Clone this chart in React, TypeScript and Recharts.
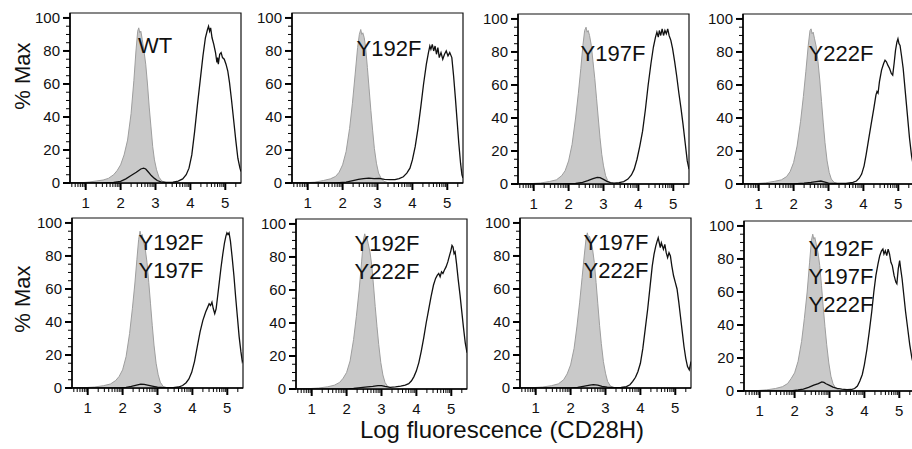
import React from 'react';
import { ComposedChart, Area, Line, XAxis, YAxis, ReferenceArea } from 'recharts';

/* ─── AXES ─────────────────────────────────────── */
const X_DOMAIN = [0.55, 5.45];
const Y_DOMAIN = [0, 103];
const X_MAJOR = [1, 2, 3, 4, 5];
const X_DECADES = [0, 1, 2, 3, 4, 5];
const LOG_MINOR = [0.301, 0.477, 0.602, 0.699, 0.778, 0.845, 0.903, 0.954];
const Y_MAJOR = [0, 20, 40, 60, 80, 100];
const Y_MINOR = [5, 10, 15, 25, 30, 35, 45, 50, 55, 65, 70, 75, 85, 90, 95];

const X_TICKS = [
  ...X_MAJOR,
  ...X_DECADES.flatMap(d => LOG_MINOR.map(m => d + m)).filter(v => v > X_DOMAIN[0] && v < X_DOMAIN[1]),
].sort((a, b) => a - b);
const Y_TICKS = [...Y_MAJOR, ...Y_MINOR].sort((a, b) => a - b);

/* ─── DATA: [log fluorescence, % max] ─────────────────────────────────────── */
const wtIso = [[0.55,0],[0.9,0.2],[1.1,0.6],[1.3,1.2],[1.5,1.8],[1.65,2.8],[1.8,5],[1.9,7.5],[2.0,11],[2.1,17],[2.2,26],[2.3,42],[2.38,62],[2.44,80],[2.49,92],[2.52,94],[2.55,91],[2.58,92],[2.62,87],[2.67,80],[2.72,72],[2.77,60],[2.82,46],[2.87,34],[2.92,22],[2.97,14],[3.03,8],[3.1,3.5],[3.18,1.2],[3.3,0.3],[3.5,0]];
const wtStain = [[0.55,0],[1.5,0],[1.8,0.3],[2.0,1],[2.15,2.5],[2.3,4.5],[2.45,6.5],[2.58,8.5],[2.66,9],[2.72,8.5],[2.8,6.5],[2.88,4.5],[2.97,2.8],[3.05,1.5],[3.15,0.7],[3.3,0.3],[3.5,0.5],[3.65,1.2],[3.78,2.5],[3.88,5],[3.96,9],[4.04,17],[4.12,31],[4.2,47],[4.28,62],[4.36,77],[4.43,88],[4.49,93],[4.52,95],[4.55,92],[4.58,94],[4.62,88],[4.67,84],[4.72,79],[4.76,73],[4.78,76],[4.8,72],[4.84,78],[4.88,79],[4.92,76],[4.97,75],[5.02,72],[5.07,68],[5.12,61],[5.18,50],[5.24,38],[5.3,26],[5.36,15],[5.42,9],[5.45,7]];

const y192Iso = [[0.55,0],[0.9,0.1],[1.2,0.5],[1.45,1.5],[1.65,2.5],[1.8,4],[1.9,6.5],[2.0,11],[2.1,19],[2.2,33],[2.28,48],[2.36,66],[2.43,82],[2.48,90],[2.52,93],[2.55,90],[2.58,91],[2.62,88],[2.66,82],[2.71,70],[2.76,57],[2.81,44],[2.86,32],[2.91,21],[2.97,12],[3.03,6],[3.1,3],[3.18,1],[3.3,0.2],[3.5,0]];
const y192Stain = [[0.55,0],[1.8,0],[2.1,0.5],[2.3,1.5],[2.45,2.2],[2.6,2.6],[2.75,3],[2.9,2.6],[3.05,2.8],[3.2,2.2],[3.35,2],[3.5,2],[3.62,2.6],[3.74,3.8],[3.84,6],[3.93,9],[4.0,14],[4.08,22],[4.16,33],[4.24,46],[4.32,60],[4.4,72],[4.46,79],[4.5,83],[4.53,81],[4.57,84],[4.61,80],[4.65,83],[4.69,78],[4.73,82],[4.77,76],[4.82,79],[4.87,75],[4.92,78],[4.97,80],[5.02,77],[5.07,79],[5.13,76],[5.18,65],[5.23,52],[5.28,38],[5.33,24],[5.38,12],[5.42,5],[5.45,3]];

const y197Iso = [[0.55,0],[0.9,0.2],[1.2,0.6],[1.45,1.5],[1.65,2.5],[1.8,5],[1.9,8],[2.0,14],[2.1,24],[2.2,40],[2.28,55],[2.35,70],[2.41,84],[2.46,93],[2.5,95],[2.53,92],[2.56,93],[2.6,90],[2.65,84],[2.7,74],[2.75,64],[2.8,52],[2.85,40],[2.9,28],[2.95,18],[3.0,11],[3.06,5],[3.12,2],[3.2,0.5],[3.35,0]];
const y197Stain = [[0.55,0],[1.8,0],[2.2,0.3],[2.4,1],[2.55,2],[2.7,3.2],[2.82,4],[2.9,3.8],[3.0,2.8],[3.1,1.6],[3.2,0.8],[3.3,0.5],[3.45,0.8],[3.58,1.5],[3.7,3],[3.8,5.5],[3.88,9],[3.96,15],[4.04,23],[4.12,32],[4.2,45],[4.28,60],[4.36,73],[4.43,83],[4.49,89],[4.53,92],[4.57,89],[4.6,93],[4.64,90],[4.68,94],[4.72,90],[4.76,93],[4.8,91],[4.84,94],[4.88,90],[4.93,87],[4.98,82],[5.04,74],[5.1,65],[5.16,55],[5.22,46],[5.28,36],[5.34,25],[5.4,14],[5.45,9]];

const y222Iso = [[0.55,0],[0.9,0.2],[1.2,0.7],[1.45,1.6],[1.65,2.5],[1.8,4.5],[1.9,7.5],[2.0,13],[2.1,23],[2.2,38],[2.28,53],[2.35,68],[2.42,84],[2.47,93],[2.5,94],[2.53,91],[2.56,92],[2.6,88],[2.65,83],[2.7,74],[2.75,63],[2.8,50],[2.85,37],[2.9,25],[2.96,14],[3.02,7],[3.08,3],[3.16,1],[3.3,0]];
const y222Stain = [[0.55,0],[2.0,0],[2.3,0.5],[2.5,1],[2.65,1.5],[2.78,1.8],[2.9,1.2],[3.0,0.5],[3.2,0.3],[3.5,0.4],[3.7,1],[3.8,1.8],[3.88,3.5],[3.95,6],[4.02,11],[4.08,18],[4.15,27],[4.22,36],[4.3,46],[4.36,54],[4.39,56],[4.42,55],[4.46,62],[4.52,69],[4.58,73],[4.62,75],[4.66,74],[4.7,72],[4.75,70],[4.8,67],[4.84,66],[4.88,73],[4.92,81],[4.96,86],[4.99,88],[5.02,85],[5.05,84],[5.09,78],[5.14,70],[5.2,56],[5.26,42],[5.32,28],[5.38,17],[5.45,9]];

const y192y197Iso = [[0.55,0],[0.9,0.2],[1.2,0.6],[1.45,1.4],[1.65,2.4],[1.8,4.5],[1.9,7],[2.0,11],[2.1,19],[2.2,33],[2.28,48],[2.35,63],[2.41,78],[2.46,90],[2.5,95],[2.53,92],[2.56,93],[2.6,89],[2.65,84],[2.7,76],[2.75,64],[2.8,51],[2.85,38],[2.9,26],[2.96,15],[3.02,8],[3.08,3.5],[3.16,1],[3.3,0]];
const y192y197Stain = [[0.55,0],[1.9,0],[2.1,0.4],[2.25,1],[2.4,1.8],[2.52,2.4],[2.62,2.2],[2.75,1.6],[2.88,1],[3.0,0.5],[3.2,0.2],[3.45,0.2],[3.6,0.6],[3.72,1.5],[3.82,3.2],[3.9,5.5],[3.98,9.5],[4.06,16],[4.14,25],[4.22,34],[4.3,41],[4.38,46],[4.44,49],[4.48,51],[4.52,50],[4.56,52],[4.6,48],[4.64,45],[4.68,48],[4.72,55],[4.77,64],[4.82,73],[4.87,81],[4.92,88],[4.96,92],[4.99,94],[5.02,93],[5.05,94],[5.09,89],[5.14,79],[5.19,68],[5.24,55],[5.29,43],[5.34,31],[5.39,22],[5.43,16],[5.45,17]];

const y192y222Iso = [[0.55,0],[0.9,0.2],[1.2,0.6],[1.45,1.3],[1.65,2.3],[1.8,4],[1.9,6.5],[2.0,10],[2.1,17],[2.2,30],[2.28,44],[2.36,60],[2.43,77],[2.48,90],[2.52,94],[2.55,91],[2.58,92],[2.62,88],[2.67,83],[2.72,75],[2.77,63],[2.82,50],[2.87,38],[2.92,27],[2.98,16],[3.04,8.5],[3.1,4],[3.18,1.4],[3.3,0.2],[3.45,0]];
const y192y222Stain = [[0.55,0],[2.0,0],[2.2,0.3],[2.4,0.8],[2.6,1.3],[2.75,1.6],[2.9,2],[3.0,2.1],[3.1,1.6],[3.25,1],[3.4,1.3],[3.55,1.8],[3.68,2.4],[3.78,3.2],[3.86,5],[3.93,7.5],[4.0,11],[4.07,16],[4.14,23],[4.21,31],[4.28,40],[4.35,48],[4.42,56],[4.49,63],[4.55,67],[4.6,69],[4.64,70],[4.68,68],[4.72,71],[4.76,70],[4.8,72],[4.85,74],[4.9,77],[4.95,81],[4.99,84],[5.02,87],[5.05,86],[5.08,82],[5.11,83],[5.15,76],[5.2,66],[5.25,57],[5.3,47],[5.35,37],[5.4,28],[5.45,22]];

const y197y222Iso = [[0.55,0],[0.9,0.2],[1.2,0.6],[1.45,1.4],[1.65,2.5],[1.8,5],[1.9,8.5],[2.0,14],[2.1,24],[2.18,37],[2.26,52],[2.33,67],[2.39,80],[2.44,90],[2.48,94],[2.51,91],[2.54,92],[2.58,89],[2.63,84],[2.68,76],[2.73,64],[2.78,51],[2.83,38],[2.88,27],[2.94,16],[3.0,9],[3.06,4],[3.14,1.2],[3.28,0]];
const y197y222Stain = [[0.55,0],[2.0,0],[2.2,0.4],[2.4,1.2],[2.55,1.8],[2.65,2],[2.78,1.7],[2.9,1],[3.05,0.5],[3.25,0.2],[3.45,0.3],[3.6,0.8],[3.7,2],[3.78,4],[3.86,6.5],[3.93,10],[4.0,15],[4.07,24],[4.14,36],[4.21,48],[4.28,62],[4.34,74],[4.39,81],[4.44,86],[4.48,89],[4.51,91],[4.54,88],[4.57,85],[4.6,88],[4.63,86],[4.66,84],[4.7,87],[4.74,82],[4.78,79],[4.82,82],[4.86,80],[4.9,74],[4.95,68],[5.0,64],[5.05,60],[5.1,52],[5.15,43],[5.2,34],[5.25,25],[5.3,18],[5.35,13],[5.4,11],[5.45,16]];

const tripleIso = [[0.55,0],[0.9,0.2],[1.2,0.7],[1.45,1.5],[1.65,2.6],[1.8,4.5],[1.9,7.5],[2.0,11],[2.1,18],[2.2,30],[2.28,44],[2.36,60],[2.43,78],[2.48,91],[2.52,95],[2.55,92],[2.58,93],[2.62,89],[2.67,84],[2.72,76],[2.77,64],[2.82,51],[2.87,39],[2.92,28],[2.98,17],[3.04,9],[3.1,4.5],[3.18,1.5],[3.3,0.2],[3.45,0]];
const tripleStain = [[0.55,0],[1.9,0],[2.1,0.6],[2.25,1.2],[2.4,2.2],[2.55,3.5],[2.68,4.5],[2.78,5.5],[2.84,5.2],[2.9,4.4],[3.0,3.4],[3.1,2.4],[3.22,1.6],[3.35,1.1],[3.5,0.8],[3.62,0.9],[3.72,1.5],[3.8,3],[3.87,6],[3.94,10],[4.0,16],[4.07,25],[4.14,36],[4.21,48],[4.27,60],[4.33,70],[4.39,77],[4.44,82],[4.49,85],[4.53,86],[4.56,83],[4.6,85],[4.64,82],[4.68,86],[4.72,83],[4.76,78],[4.8,76],[4.85,70],[4.9,66],[4.93,65],[4.97,74],[5.01,79],[5.04,74],[5.08,68],[5.13,58],[5.18,48],[5.24,38],[5.3,28],[5.36,20],[5.42,15],[5.45,13]];

const PANEL_NAMES = [
  ['WT'], ['Y192F'], ['Y197F'], ['Y222F'],
  ['Y192F', 'Y197F'], ['Y192F', 'Y222F'], ['Y197F', 'Y222F'], ['Y192F', 'Y197F', 'Y222F'],
];
const PANEL_ISO = [wtIso, y192Iso, y197Iso, y222Iso, y192y197Iso, y192y222Iso, y197y222Iso, tripleIso];
const PANEL_STAIN = [wtStain, y192Stain, y197Stain, y222Stain, y192y197Stain, y192y222Stain, y197y222Stain, tripleStain];

/* ─── LAYOUT (plot-area origin of each panel, label anchor inside plot) ─── */
const PLOT_W = 171;
const PLOT_H = 170;
const Y_AXIS_W = 48;
const TOP_M = 10;
const X_AXIS_H = 32;
const LAYOUT = [
  { left: 70, top: 13, lx: 85, ly: 41 },
  { left: 292, top: 13, lx: 97, ly: 44 },
  { left: 518, top: 14, lx: 95, ly: 48 },
  { left: 743, top: 14, lx: 98, ly: 48 },
  { left: 72, top: 218, lx: 99, ly: 33 },
  { left: 296, top: 219, lx: 91, ly: 33 },
  { left: 520, top: 218, lx: 96, ly: 33 },
  { left: 744, top: 221, lx: 97, ly: 36 },
];

const FONT = '"Liberation Sans", Arial, Helvetica, sans-serif';

const merge = (iso: number[][], stain: number[][]) => {
  const rows = new Map<number, any>();
  iso.forEach(([x, y]) => rows.set(x, { ...(rows.get(x) || { x }), iso: y }));
  stain.forEach(([x, y]) => rows.set(x, { ...(rows.get(x) || { x }), stain: y }));
  return [...rows.values()].sort((a, b) => a.x - b.x);
};

/* ─── TICKS ─────────────────────────────────────── */
const XTick = ({ x, y, payload }: any) => {
  const v = payload.value;
  const major = X_MAJOR.includes(v);
  return (
    <g>
      <line x1={x} x2={x} y1={y} y2={y + (major ? 7 : 4)} stroke="#000" strokeWidth={major ? 2 : 1} />
      {major && <text x={x} y={y + 25} textAnchor="middle" fontSize={15} fontFamily={FONT} fill="#111">{v}</text>}
    </g>
  );
};

const YTick = ({ x, y, payload }: any) => {
  const v = payload.value;
  const major = Y_MAJOR.includes(v);
  return (
    <g>
      <line x1={x} x2={x - (major ? 7 : 4)} y1={y} y2={y} stroke="#000" strokeWidth={major ? 2 : 1} />
      {major && <text x={x - 10} y={y + 5} textAnchor="end" fontSize={15} fontFamily={FONT} fill="#111">{v}</text>}
    </g>
  );
};

/* ─── ONE HISTOGRAM PANEL ─────────────────────────────────────── */
const Panel = ({ i }: { i: number }) => {
  const pos = LAYOUT[i];
  const data = merge(PANEL_ISO[i], PANEL_STAIN[i]);
  const wrapLeft = pos.left - Y_AXIS_W;
  const wrapTop = pos.top - TOP_M;
  return (
    <div style={{ position: 'absolute', left: wrapLeft, top: wrapTop }}>
      <ComposedChart
        width={Y_AXIS_W + PLOT_W + 1}
        height={TOP_M + PLOT_H + X_AXIS_H}
        data={data}
        margin={{ top: TOP_M, right: 1, bottom: 0, left: 0 }}
      >
        <XAxis
          dataKey="x" type="number" domain={X_DOMAIN} ticks={X_TICKS} interval={0}
          tickSize={0} tickMargin={0} tickLine={false} tick={<XTick />}
          axisLine={{ stroke: '#000', strokeWidth: 1.5 }} height={X_AXIS_H} allowDataOverflow
        />
        <YAxis
          type="number" domain={Y_DOMAIN} ticks={Y_TICKS} interval={0}
          tickSize={0} tickMargin={0} tickLine={false} tick={<YTick />}
          axisLine={{ stroke: '#000', strokeWidth: 1.5 }} width={Y_AXIS_W} allowDataOverflow
        />
        <ReferenceArea
          x1={X_DOMAIN[0]} x2={X_DOMAIN[1]} y1={Y_DOMAIN[0]} y2={Y_DOMAIN[1]}
          fill="none" fillOpacity={0} stroke="#111" strokeOpacity={1} strokeWidth={1.2} ifOverflow="visible"
        />
        <Area
          type="linear" dataKey="iso" connectNulls fill="#c9c9c9" fillOpacity={1}
          stroke="#9e9e9e" strokeWidth={1} dot={false} activeDot={false} isAnimationActive={false}
        />
        <Line
          type="linear" dataKey="stain" connectNulls stroke="#111" strokeWidth={1.3}
          dot={false} activeDot={false} isAnimationActive={false}
        />
      </ComposedChart>
      {PANEL_NAMES[i].map((name, k) => (
        <div
          key={k}
          style={{
            position: 'absolute', left: Y_AXIS_W + pos.lx - 60, top: TOP_M + pos.ly + k * 28 - 21.6,
            width: 120, textAlign: 'center', fontSize: 22, lineHeight: '28px', color: '#111', whiteSpace: 'nowrap',
          }}
        >
          {name}
        </div>
      ))}
    </div>
  );
};

const YTitle = ({ cy }: { cy: number }) => (
  <div
    style={{
      position: 'absolute', left: 22.5 - 50, top: cy - 13, width: 100, height: 26,
      lineHeight: '26px', fontSize: 22, textAlign: 'center', color: '#111',
      transform: 'rotate(-90deg)', whiteSpace: 'nowrap',
    }}
  >
    % Max
  </div>
);

export default function App() {
  return (
    <div style={{ position: 'absolute', left: 0, top: 0, width: 912, height: 449, background: '#fff', overflow: 'hidden', fontFamily: FONT }}>
      {LAYOUT.map((_, i) => <Panel key={i} i={i} />)}
      <YTitle cy={76} />
      <YTitle cy={299} />
      <div
        style={{
          position: 'absolute', left: 502 - 200, top: 438 - 22.3, width: 400, textAlign: 'center',
          fontSize: 24, lineHeight: '28px', color: '#111', whiteSpace: 'nowrap',
        }}
      >
        Log fluorescence (CD28H)
      </div>
    </div>
  );
}
